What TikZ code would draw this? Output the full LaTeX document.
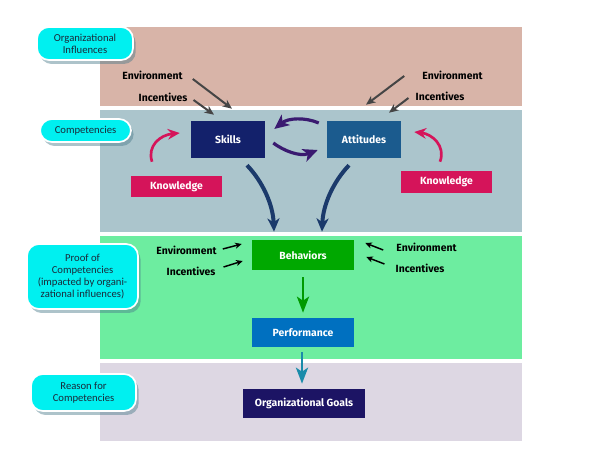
\documentclass[tikz,border=0pt]{standalone}
\usepackage{fontspec}
\setmainfont{Fira Sans}
\newfontfamily\pillfont{Carlito}
\usetikzlibrary{arrows.meta,shadows}
\definecolor{bandA}{HTML}{D8B4A8}
\definecolor{bandB}{HTML}{ABC5CC}
\definecolor{bandC}{HTML}{6DEDA0}
\definecolor{bandD}{HTML}{DDD7E3}
\definecolor{pillc}{HTML}{00F0F0}
\definecolor{pilltext}{HTML}{1A2A3A}
\definecolor{skillc}{HTML}{13216B}
\definecolor{attc}{HTML}{1B5B8E}
\definecolor{knowc}{HTML}{D5145A}
\definecolor{behc}{HTML}{00A800}
\definecolor{perfc}{HTML}{0070C0}
\definecolor{goalc}{HTML}{1C1464}
\definecolor{navyarr}{HTML}{1B3A6B}
\definecolor{purparr}{HTML}{3A1A70}
\definecolor{grayarr}{HTML}{454545}
\definecolor{greenarr}{HTML}{009A00}
\definecolor{tealarr}{HTML}{1A8BAA}
\definecolor{shadowc}{HTML}{4A7A8A}
\begin{document}
\begin{tikzpicture}[x=0.75pt,y=-0.75pt,
  pill/.style={fill=pillc, draw=white, line width=1.3pt, rounded corners=9pt,
    align=center, font=\pillfont\fontsize{8}{9.2}\selectfont, text=pilltext,
    inner sep=0pt,
    drop shadow={shadow xshift=2pt, shadow yshift=-3pt, fill=shadowc, opacity=0.45}},
  box/.style={draw=none, text=white, font=\bfseries\fontsize{7.8}{9}\selectfont, inner sep=0pt},
  lbl/.style={text=black, font=\bfseries\fontsize{7.8}{9}\selectfont, inner sep=0pt},
  grayA/.style={draw=grayarr, line width=1.5pt, -{Stealth[length=7pt,width=6pt,inset=2pt]}},
  blackA/.style={draw=black, line width=1.1pt, -{Stealth[length=5pt,width=4.5pt,inset=1.5pt]}},
  purpA/.style={draw=purparr, line width=2.4pt, -{Stealth[length=11pt,width=10pt,inset=3pt]}},
  knowA/.style={draw=knowc, line width=2pt, -{Stealth[length=9pt,width=8pt,inset=3pt]}},
  navyA/.style={draw=navyarr, line width=3pt, -{Stealth[length=10pt,width=9pt,inset=3pt]}},
]
\useasboundingbox (0,0) rectangle (600,466);
% bands
\fill[bandA] (100,27) rectangle (522,106);
\fill[bandB] (100,110) rectangle (522,232);
\fill[bandC] (100,236) rectangle (522,359);
\fill[bandD] (100,363) rectangle (522,441);

% pills
\node[pill, minimum width={96*0.75pt}, minimum height={33*0.75pt}] (p1) at (85,43.5) {Organizational\\Influences};
\node[pill, minimum width={91*0.75pt}, minimum height={23*0.75pt}] (p2) at (85.5,130.5) {Competencies};
\node[pill, minimum width={111*0.75pt}, minimum height={65*0.75pt}] (p3) at (82.5,276.5) {Proof of\\Competencies\\(impacted by organi-\\zational influences)};
\node[pill, minimum width={105*0.75pt}, minimum height={37*0.75pt}] (p4) at (83.5,392.5) {Reason for\\Competencies};

% boxes
\node[box, fill=skillc, minimum width={74*0.75pt}, minimum height={37*0.75pt}] (skills) at (228,139.5) {Skills};
\node[box, fill=attc, minimum width={74*0.75pt}, minimum height={37*0.75pt}] (att) at (364,139.5) {Attitudes};
\node[box, fill=knowc, minimum width={91*0.75pt}, minimum height={21*0.75pt}] (knowL) at (176.5,186.5) {Knowledge};
\node[box, fill=knowc, minimum width={91*0.75pt}, minimum height={22*0.75pt}] (knowR) at (446.5,182) {Knowledge};
\node[box, fill=behc, minimum width={102*0.75pt}, minimum height={30*0.75pt}] (beh) at (303,255) {Behaviors};
\node[box, fill=perfc, minimum width={102*0.75pt}, minimum height={29*0.75pt}] (perf) at (303,332.5) {Performance};
\node[box, fill=goalc, minimum width={122*0.75pt}, minimum height={29*0.75pt}] (goals) at (304,403.5) {Organizational Goals};

% labels
\node[lbl] (envTL) at (152.5,75) {Environment};
\node[lbl] (incTL) at (163,97) {Incentives};
\node[lbl] (envTR) at (452.5,75) {Environment};
\node[lbl] (incTR) at (440,96) {Incentives};
\node[lbl] (envBL) at (186.5,250) {Environment};
\node[lbl] (incBL) at (191,271) {Incentives};
\node[lbl] (envBR) at (426.5,247) {Environment};
\node[lbl] (incBR) at (420,268) {Incentives};

% gray input arrows
\draw[grayA] ([shift={(10,4)}]envTL.east) -- ([shift={(4,-12)}]skills.north);
\draw[grayA] ([shift={(6,3)}]incTL.east) -- ([shift={(-14,-6)}]skills.north);
\draw[grayA] ([shift={(-18,1)}]envTR.west) -- ([shift={(2,-16)}]att.north);
\draw[grayA] ([shift={(-7,2)}]incTR.west) -- ([shift={(25,-8)}]att.north);

% black behavior arrows
\draw[blackA] ([shift={(6,-1)}]envBL.east) -- ([shift={(-10,-11)}]beh.west);
\draw[blackA] ([shift={(8,-4)}]incBL.east) -- ([shift={(-9,6)}]beh.west);
\draw[blackA] ([shift={(-13,3)}]envBR.west) -- ([shift={(11,-12)}]beh.east);
\draw[blackA] ([shift={(-11,-4)}]incBR.west) -- ([shift={(12,2)}]beh.east);

% skills <-> attitudes
\draw[purpA] ([shift={(-8,-16.5)}]att.west) .. controls (305,117) and (288,118) .. ([shift={(9,-10.5)}]skills.east);
\draw[purpA] ([shift={(8,3.5)}]skills.east) .. controls (284,151) and (300,157) .. ([shift={(-9,10.5)}]att.west);

% knowledge arrows
\draw[knowA] ([shift={(-24.5,-14)}]knowL.north) .. controls (147,146) and (160,135) .. ([shift={(-11,-6.5)}]skills.west);
\draw[knowA] ([shift={(-6.5,-9)}]knowR.north) .. controls (446,146) and (432,134) .. ([shift={(13,-7.5)}]att.east);

% to behaviors
\draw[navyA] ([shift={(19,7)}]skills.south) .. controls (263,182) and (273,205) .. ([shift={(-29,-8)}]beh.north);
\draw[navyA] ([shift={(-15,7)}]att.south) .. controls (333,182) and (323,205) .. ([shift={(19,-8)}]beh.north);

% down arrows
\draw[draw=greenarr, line width=2.2pt, -{Stealth[length=12pt,width=9pt,inset=3pt]}] ([yshift={-7*0.75pt}]beh.south) -- ([yshift={5*0.75pt}]perf.north);
\draw[draw=tealarr, line width=2.2pt, -{Stealth[length=12pt,width=9pt,inset=3pt]}] ([shift={(-1,5)}]perf.south) -- ([shift={(-2,-5)}]goals.north);
\end{tikzpicture}
\end{document}
